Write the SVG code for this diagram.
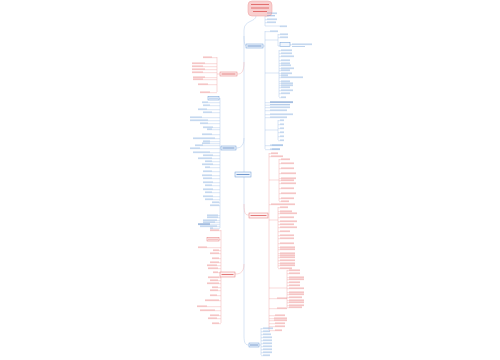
<svg xmlns="http://www.w3.org/2000/svg" width="500" height="360" viewBox="0 0 500 360">
<style>
.cb{fill:none;stroke:#b3cbea;stroke-width:.5}
.cr{fill:none;stroke:#f2b3b3;stroke-width:.5}
.tb{fill:none;stroke:#5b8fcf;stroke-width:.9;opacity:.45}
.tr{fill:none;stroke:#e25a5a;stroke-width:.9;opacity:.45}
.nb{fill:#f1f6fd;stroke:#6b9bd6;stroke-width:.5}
.nr{fill:#fdf2f2;stroke:#e67878;stroke-width:.5}
.kb{fill:none;stroke:#3a70b8;stroke-width:1;opacity:.7}
.kr{fill:none;stroke:#d84444;stroke-width:1;opacity:.7}
</style>
<rect width="500" height="360" fill="#fff"/>
<g id="connectors">
<path class="cb" d="M256,16C256,22 244,20 244,30V172M244,177V336C244,344 246,345 249,345"/>
<path class="cb" d="M265,14V26M265,13.7H277M265,16.2H275M265,19.7H277M265,22.7H276M265,26H280V26.7H287"/>
<path class="cb" d="M244,36C244,46 246,46 246,46M263,46H265M265,31V149M265,31.7H278M265,40H278M278,34V46M278,34.7H288M278,37.7H288M278,46H280M265,73H279M279,50V97M265,130H278M278,120V140"/>
<path class="cb" d="M279,50.7H292M279,53.7H292M279,56.7H294M279,60.7H290M279,63.7H290M279,65.7H291M279,68.7H294M279,70.7H290M279,73.7H292M279,75.7H288M279,77.7H303M279,81.7H290M279,83.7H293M279,85.7H293M279,87.7H290M279,90.7H293M279,93.7H290M279,97.7H286M265,102.7H293M265,105.2H290M265,107.7H290M265,110.7H287M265,114.7H293M265,117.7H287M278,120.7H284M278,124.7H284M278,128.7H284M278,132.7H284M278,136.7H284M278,140.7H284M265,145.7H283M265,149.7H280M290,44.7H312"/>
<path class="cr" d="M244,62C244,74 240,74 237,74M220,74H217M217,57V92M217,57.7H203M217,63.7H192M217,66.7H192M217,69.7H192M217,72.7H192M217,77.7H193M217,79.7H193M217,84.7H198M217,92.7H200"/>
<path class="cb" d="M244,138C244,148 238,148 236,148M221,148H220M220,98V228M220,98.7H208M220,102.7H202M220,105.7H203M220,109.7H198M220,112.7H203M220,117.7H190M220,120.7H190M220,123.7H200M220,127.7H203M220,129.7H207M220,134.7H202M220,138.7H193M220,141.7H203M220,143.7H202M220,145.7H195M220,148.7H190M220,152.7H193M220,155.7H203M220,158.7H198M220,161.7H205M220,164.7H202M220,167.7H205M220,171.7H203M220,175.7H202M220,178.7H203M220,182.7H203M220,185.7H205M220,189.7H203M220,192.7H205M220,196.7H203M220,199.7H205M220,202.7H212M220,205.7H210M220,215.7H207M220,217.7H207M220,220.7H203M220,222.7H203M220,224.7H198M220,226.7H200M220,228.7H210"/>
<path class="cr" d="M244,204C244,215 246,215 249,215M268,215H269M269,153V330M269,153.7H278M269,156.7H283M269,180H279M279,159V201M269,204.7H295M269,220H278M278,207V268M269,288H287M287,270V307M269,298.7H287M269,308.7H287M269,315.7H285M269,318.7H287M269,320.7H287M269,323.7H285M269,326.7H285M269,330.7H282"/>
<path class="cr" d="M279,159.7H290M279,163.7H294M279,168.7H294M279,173.7H296M279,178.7H296M279,180.7H294M279,183.7H296M279,188.7H294M279,193.7H296M279,198.7H294M279,201.7H289M278,207.7H288M278,211.7H292M278,213.7H297M278,217.7H294M278,221.7H297M278,224.7H294M278,227.7H297M278,231.7H290M278,235.7H294M278,238.7H294M278,243.7H294M278,247.7H295M278,249.7H295M278,253.7H295M278,255.7H295M278,257.7H295M278,260.7H295M278,263.7H295M278,265.7H295M278,268.7H292M287,270.7H300M287,273.7H300M287,277.7H304M287,279.7H304M287,282.7H300M287,285.7H300M287,288.7H304M287,292.7H304M287,294.7H304M287,297.7H302M287,300.7H304M287,302.7H304M287,305.7H304M287,307.7H302"/>
<path class="cr" d="M244,264C244,274 238,274 235,274M220,274H221M221,230V323M221,230.7H210M221,239.7H207M221,247.7H198M221,250.7H213M221,253.7H210M221,258.7H212M221,262.7H210M221,265.7H207M221,268.7H208M221,272.7H213M221,277.7H208M221,280.7H210M221,283.7H207M221,287.7H212M221,290.7H210M221,295.7H210M221,300.7H205M221,306.7H197M221,310.7H200M221,315.7H210M221,318.7H208M221,323.7H212"/>
<path class="cb" d="M259,345H261M261,328V355M261,328.7H273M261,331.7H270M261,334.7H271M261,337.7H272M261,340.7H272M261,343.7H272M261,346.7H272M261,349.7H272M261,352.7H272M261,355.7H270"/>
</g>
<g id="root">
<rect x="248" y="1" width="24" height="15" rx="4" fill="#f9cfcf" stroke="#ee9f9f" stroke-width=".5"/>
<path class="kr" d="M251,4.5H269M251,8H269M253,11.5H267"/>
</g>
<g id="root-notes">
<path class="tb" d="M267,13H277M267,15.5H275M267,19H277M267,22H276M280,26H287"/>
</g>
<g id="node-r1">
<rect class="nb" x="246" y="44" width="17" height="4"/>
<path class="kb" d="M247.5,46H261.5"/>
</g>
<g id="leaves-r1">
<path class="tb" d="M270,31H278M280,34H288M280,37H288M292,44H312M292,46.5H305M281,50H292M281,53H292M281,56H294M281,60H290M281,63H290M281,65H291M281,68H294M281,70H290M281,73H292M281,75H288M281,77H303M281,81H290M281,83H293M281,85H293M281,87H290M281,90H293M281,93H290M281,97H286M270,104.5H290M270,107H290M270,110H287M270,114H293M270,117H287M280,120H284M280,124H284M280,128H284M280,132H284M280,136H284M280,140H284M270,145H283M270,149H280"/>
<rect class="nb" x="280" y="42.5" width="10" height="4"/>
<path class="kb" d="M270,102H293"/>
</g>
<g id="node-l1">
<rect class="nr" x="220" y="72" width="17" height="4"/>
<path class="kr" d="M221.5,74H235.5"/>
</g>
<g id="leaves-l1">
<path class="tr" d="M203,57H212M192,63H205M192,66H203M192,69H205M192,72H203M193,77H205M193,79H203M198,84H208M200,92H210"/>
</g>
<g id="node-l2">
<rect class="nb" x="221" y="146" width="15" height="4"/>
<path class="kb" d="M222.5,148H234.5"/>
</g>
<g id="leaves-l2">
<rect class="nb" x="208" y="96.5" width="11" height="3.5"/>
<path class="tb" d="M209,98.2H218M202,102H208M203,105H210M198,109H207M203,112H212M190,117H202M190,120H208M200,123H208M203,127H213M207,129H212M202,134H212M193,138H215M203,141H210M202,143H210M195,145H203M190,148H200M193,152H210M203,155H213M198,158H212M205,161H212M202,164H213M205,167H210M203,171H212M202,175H212M203,178H212M203,182H213M205,185H212M203,189H213M205,192H212M203,196H213M205,199H213M212,202H219M210,205H219M207,215H218M207,217H218M203,220H217M203,222H215M200,226H217M210,228H213"/>
<path class="kb" d="M198,224H210"/>
</g>
<g id="node-center">
<rect class="nb" x="235" y="172" width="16" height="5"/>
<path class="kb" d="M236.5,174.5H249.5"/>
</g>
<g id="node-r2">
<rect class="nr" x="249" y="213" width="19" height="5"/>
<path class="kr" d="M250.5,215.5H266.5"/>
</g>
<g id="leaves-r2">
<path class="tb" d="M272,145H283M272,149H280"/>
<path class="tr" d="M271,153H278M271,156H283M281,159H290M281,163H294M281,168H294M281,173H296M281,178H296M281,180H294M281,183H296M281,188H294M281,193H296M281,198H294M281,201H289M271,204H295M280,207H288M280,211H292M280,213H297M280,217H294M280,221H297M280,224H294M280,227H297M280,231H290M280,235H294M280,238H294M280,243H294M280,247H295M280,249H295M280,253H295M280,255H295M280,257H295M280,260H295M280,263H295M280,265H295M280,268H292M289,270H300M289,273H300M289,277H304M289,279H304M289,282H300M289,285H300M289,288H304M289,292H304M289,294H304M289,297H302M277,298H287M289,300H304M289,302H304M289,305H304M289,307H302M277,308H287M275,315H285M274,318H287M274,320H287M275,323H285M275,326H285M275,330H282"/>
</g>
<g id="node-l3">
<rect class="nr" x="220" y="272" width="15" height="5"/>
<path class="kr" d="M221.5,274.5H233.5"/>
</g>
<g id="leaves-l3">
<rect class="nr" x="207" y="237.5" width="12" height="3.5"/>
<path class="tr" d="M210,230H219M208,239.2H218M198,247H207M213,250H219M210,253H219M212,258H219M210,262H219M207,265H217M208,268H218M213,272H218M208,277H219M210,280H218M207,283H219M212,287H218M210,290H218M210,295H217M205,300H219M197,306H207M200,310H215M210,315H219M208,318H217M212,323H219"/>
</g>
<g id="node-r3">
<rect class="nb" x="249" y="343" width="10" height="4"/>
<path class="kb" d="M250,345H258"/>
</g>
<g id="leaves-r3">
<path class="tb" d="M263,328H273M263,331H270M263,334H271M263,337H272M263,340H272M263,343H272M263,346H272M263,349H272M263,352H272M263,355H270"/>
</g>
</svg>
